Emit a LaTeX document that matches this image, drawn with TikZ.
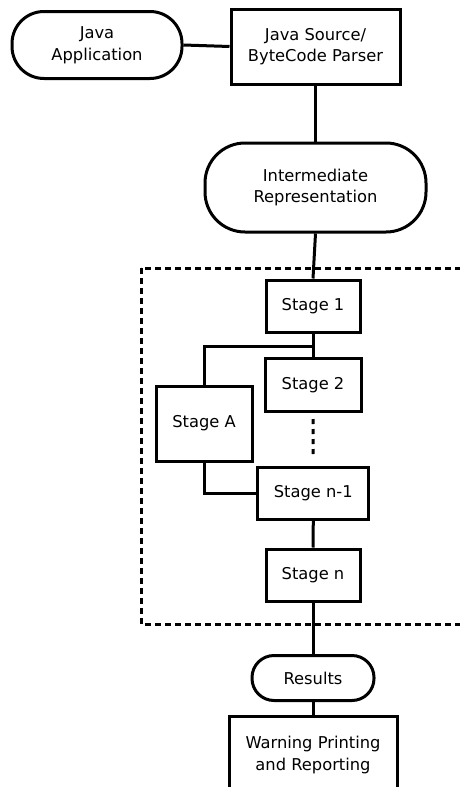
\documentclass[tikz,border=0pt]{standalone}
\usepackage{fontspec}
\setmainfont{DejaVu Sans}
\begin{document}
\begin{tikzpicture}[x=1pt,y=-1pt,
  box/.style={draw, line width=3pt, align=center, inner sep=0pt,
    font=\fontsize{16.3}{21.7}\selectfont},
  stadium/.style={box, rounded corners=#1},
  link/.style={line width=3pt},
  dots/.style={line width=3pt, dash pattern=on 5pt off 5pt},
  frame/.style={line width=3pt, dash pattern=on 6pt off 4pt}]
\clip (0,0) rectangle (460,787);

% input side
\node[stadium=32pt, minimum width=170pt, minimum height=67pt] (japp) at (97,45) {Java\\Application};
\node[box, minimum width=169pt, minimum height=75pt] (parser) at (315.5,46.5) {Java Source/\\ByteCode Parser};
\node[stadium=40pt, minimum width=221pt, minimum height=89pt] (ir) at (315.5,187.5) {Intermediate\\Representation};

% analysis stages
\draw[frame] (141,268) rectangle (480,624);
\node[box, minimum width=94pt, minimum height=52pt] (s1) at (313,306) {Stage 1};
\node[box, minimum width=96pt, minimum height=53pt] (s2) at (313,385) {Stage 2};
\node[box, minimum width=96pt, minimum height=75pt] (sA) at (204,423.5) {Stage A};
\node[box, minimum width=111pt, minimum height=52pt] (sn1) at (313.3,493) {Stage n-1};
\node[box, minimum width=94pt, minimum height=52pt] (sn) at (313,575) {Stage n};
\coordinate (fork) at (313,346);

% output side
\node[stadium=22pt, minimum width=122pt, minimum height=45pt] (res) at (313,678) {Results};
\node[box, minimum width=168pt, minimum height=78pt] (warn) at (313,755) {Warning Printing\\and Reporting};

% connectors
\draw[link] (japp.east) -- (parser.west);
\draw[link] (parser.south) -- (ir.north);
\draw[link] (ir.south) -- (s1.north);
\draw[link] (s1.south) -- (s2.north);
\draw[link] (fork) -| (sA.north);
\draw[link] (sA.south) |- (sn1.west);
\draw[dots, shorten <=6pt, shorten >=10pt] (s2.south) -- (sn1.north);
\draw[link] (sn1.south) -- (sn.north);
\draw[link] (sn.south) -- (res.north);
\draw[link] (res.south) -- (warn.north);
\end{tikzpicture}
\end{document}
